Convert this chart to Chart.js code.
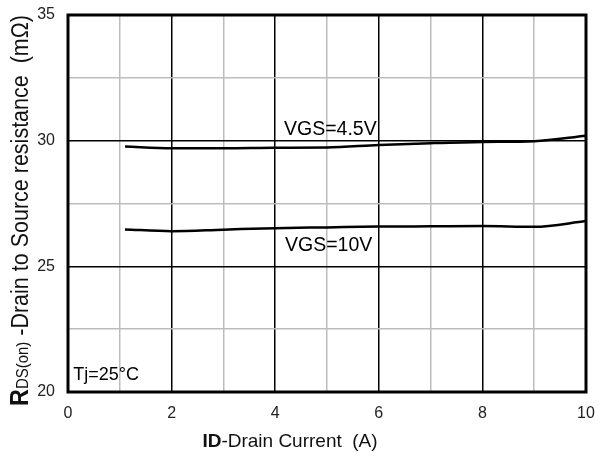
<!DOCTYPE html>
<html>
<head>
<meta charset="utf-8">
<script src="https://cdn.jsdelivr.net/npm/chart.js@4"></script>
<style>
html,body{margin:0;padding:0;background:#fff;}
#wrap{width:600px;height:460px;position:relative;}
</style>
</head>
<body>
<div id="wrap"><canvas id="c" width="600" height="460"></canvas></div>
<script>
const currentA = [1.1, 2, 3, 4, 5, 6, 7, 8, 9, 10];
const vgs45 = [29.77, 29.70, 29.70, 29.72, 29.73, 29.83, 29.90, 29.95, 29.98, 30.20];
const vgs10 = [26.47, 26.40, 26.46, 26.52, 26.55, 26.58, 26.59, 26.60, 26.57, 26.80];
const xTickLabels = ['0','2','4','6','8','10'];
const yTickLabels = ['20','25','30','35'];
const seriesLabels = ['VGS=4.5V', 'VGS=10V'];
const labelPos = [[4.17, 30.44], [4.19, 25.83]];
const tjLabel = 'Tj=25\u00B0C';
const tjPos = [0.1, 20.67];

const FONT = '"Liberation Sans", Arial, sans-serif';

const toPts = (xs, ys) => xs.map((x, i) => ({x: x, y: ys[i]}));

const deco = {
  id: 'deco',
  afterDatasetsDraw(chart) {
    const {ctx, chartArea: a, scales} = chart;
    const xs = scales.x, ys = scales.y;
    ctx.save();
    ctx.fillStyle = '#000';
    ctx.textBaseline = 'middle';
    ctx.textAlign = 'left';
    ctx.font = '19.5px ' + FONT;
    seriesLabels.forEach((t, i) => {
      ctx.fillText(t, xs.getPixelForValue(labelPos[i][0]), ys.getPixelForValue(labelPos[i][1]));
    });
    ctx.font = '18px ' + FONT;
    ctx.fillText(tjLabel, xs.getPixelForValue(tjPos[0]), ys.getPixelForValue(tjPos[1]));
    // frame
    ctx.strokeStyle = '#000';
    ctx.lineWidth = 3;
    ctx.strokeRect(a.left, a.top, a.right - a.left, a.bottom - a.top);
    // x title
    ctx.fillStyle = '#111';
    ctx.textBaseline = 'alphabetic';
    ctx.font = 'bold 19px ' + FONT;
    const p1 = 'ID';
    const w1 = ctx.measureText(p1).width;
    ctx.font = '19px ' + FONT;
    const p2 = '-Drain Current  (A)';
    const w2 = ctx.measureText(p2).width;
    let x0 = 290 - (w1 + w2) / 2;
    const yb = 447;
    ctx.font = 'bold 19px ' + FONT;
    ctx.fillText(p1, x0, yb);
    ctx.font = '19px ' + FONT;
    ctx.fillText(p2, x0 + w1, yb);
    // y title (rotated), fitted to span from y=406 up to y=15
    const parts = [
      {t: 'R', f: 'bold 25px ' + FONT},
      {t: 'DS(on)', f: '16px ' + FONT},
      {t: ' -Drain to Source resistance  (m\u03A9)', f: '23px ' + FONT}
    ];
    let total = 0;
    parts.forEach(p => { ctx.font = p.f; p.w = ctx.measureText(p.t).width; total += p.w; });
    const span = 406 - 15;
    const sx = Math.min(1, span / total);
    ctx.translate(28, 406);
    ctx.rotate(-Math.PI / 2);
    ctx.scale(sx, 1);
    let cx = 0;
    parts.forEach(p => { ctx.font = p.f; ctx.fillText(p.t, cx, 0); cx += p.w; });
    ctx.restore();
  }
};

new Chart(document.getElementById('c'), {
  type: 'scatter',
  data: {
    datasets: [
      {label: seriesLabels[0], data: toPts(currentA, vgs45), showLine: true, borderColor: '#000', borderWidth: 2.5, pointRadius: 0, tension: 0.4, cubicInterpolationMode: 'monotone', fill: false},
      {label: seriesLabels[1], data: toPts(currentA, vgs10), showLine: true, borderColor: '#000', borderWidth: 2.5, pointRadius: 0, tension: 0.4, cubicInterpolationMode: 'monotone', fill: false}
    ]
  },
  options: {
    responsive: false,
    animation: false,
    devicePixelRatio: 1,
    layout: {padding: {top: 15, right: 14, left: 0, bottom: 0}},
    plugins: {legend: {display: false}, tooltip: {enabled: false}},
    scales: {
      x: {
        type: 'linear', min: 0, max: 10,
        ticks: {
          stepSize: 1, autoSkip: false, maxRotation: 0, padding: 0,
          color: '#222', font: {family: FONT, size: 16},
          callback: (v) => (v % 2 === 0 ? xTickLabels[v / 2] : '')
        },
        grid: {
          drawTicks: true, tickLength: 12, tickColor: 'rgba(0,0,0,0)',
          color: (c) => (c.tick && c.tick.value % 2 === 0 ? '#000' : '#bdbdbd'),
          lineWidth: 1.5
        },
        border: {display: false},
        afterFit: (s) => { s.height = 68; }
      },
      y: {
        type: 'linear', min: 20, max: 35,
        ticks: {
          stepSize: 2.5, autoSkip: false, padding: 0,
          color: '#222', font: {family: FONT, size: 16},
          callback: (v) => (v % 5 === 0 ? yTickLabels[(v - 20) / 5] : '')
        },
        grid: {
          drawTicks: true, tickLength: 13, tickColor: 'rgba(0,0,0,0)',
          color: (c) => (c.tick && c.tick.value % 5 === 0 ? '#000' : '#bdbdbd'),
          lineWidth: 1.5
        },
        border: {display: false},
        afterFit: (s) => { s.width = 68; }
      }
    }
  },
  plugins: [deco]
});
</script>
</body>
</html>
